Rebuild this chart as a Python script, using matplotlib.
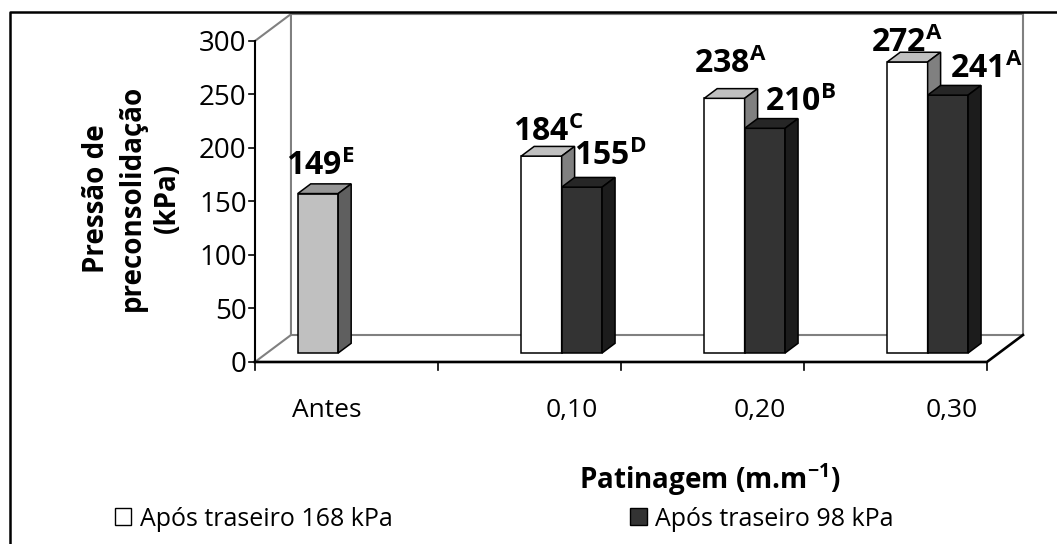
import matplotlib.pyplot as plt
from matplotlib.patches import Polygon, Patch
from matplotlib.lines import Line2D

# dados: pressão de preconsolidação (kPa) por patinagem
categorias = ["Antes", "0,10", "0,20", "0,30"]
antes = [149, None, None, None]
traseiro_168 = [None, 184, 238, 272]
traseiro_98 = [None, 155, 210, 241]
letras_antes = ["E", "", "", ""]
letras_168 = ["", "C", "A", "A"]
letras_98 = ["", "D", "B", "A"]
y_ticks = [0, 50, 100, 150, 200, 250, 300]

plt.rcParams['font.family'] = ['Open Sans', 'DejaVu Sans']
plt.rcParams['mathtext.fontset'] = 'custom'
plt.rcParams['mathtext.rm'] = 'Open Sans'
plt.rcParams['mathtext.bf'] = 'Open Sans:bold'

fig = plt.figure(figsize=(10.57, 5.44), dpi=100)
ax = fig.add_axes([0, 0, 1, 1])
ax.set_xlim(-1.893, 3.883)
ax.set_ylim(-170.1, 338.3)
ax.axis('off')

# vetor de profundidade do grafico 3D (em unidades de dados)
DX, DY = 0.197, 25.2
ymax = 300
n = len(categorias)
cinza = '#808080'

# parede do fundo e piso
ax.plot([-0.5, -0.5 + DX, -0.5 + DX], [0, DY, ymax + DY], color=cinza, lw=1.5, zorder=1)
ax.plot([-0.5 + DX, n - 0.5 + DX, n - 0.5 + DX], [DY, DY, ymax + DY], color=cinza, lw=1.5, zorder=1)
ax.plot([-0.5, -0.5 + DX, n - 0.5 + DX], [ymax, ymax + DY, ymax + DY], color=cinza, lw=1.5, zorder=1)
ax.plot([-0.5, n - 0.5, n - 0.5 + DX], [0, 0, DY], color='black', lw=1.9, zorder=5)

# eixo y
ax.plot([-0.5, -0.5], [0, ymax], color='black', lw=1.5, zorder=5)
for t in y_ticks:
    ax.plot([-0.5 - 0.03, -0.5], [t, t], color='black', lw=1.2)
    ax.text(-0.5 - 0.045, t - 3, str(t), ha='right', va='center', fontsize=20)

# eixo x: marcas entre categorias e rotulos
desloc_rotulo = [-0.11, 0.23, 0.26, 0.31]
for i in range(n + 1):
    ax.plot([i - 0.5, i - 0.5], [0, -7.5], color='black', lw=1.2)
for i, cat in enumerate(categorias):
    ax.text(i + desloc_rotulo[i], -45, cat, ha='center', va='center', fontsize=19)

# colunas 3D
w = 0.221
d0 = 0.333   # colunas afastadas da frente do piso
db = 0.36    # espessura da coluna
series = [
    (antes, letras_antes, ('#C0C0C0', '#969696', '#5F5F5F'), [-4, 0, 0, 0], [9, 0, 0, 0]),
    (traseiro_168, letras_168, ('#FFFFFF', '#C0C0C0', '#808080'), [0, 0, -1, -7], [0, 5, 16, 0]),
    (traseiro_98, letras_98, ('#333333', '#262626', '#1C1C1C'), [0, 22, 29, 32], [0, 12, 8, 7]),
]

for i in range(n):
    for k, (vals, letras, cores, ddx, ddy) in enumerate(series):
        v = vals[i]
        if v is None:
            continue
        x0 = i - 1.5 * w + k * w + d0 * DX
        b = d0 * DY
        frente, topo, lado = cores
        ax.add_patch(Polygon([(x0, b), (x0 + w, b), (x0 + w, b + v), (x0, b + v)],
                             closed=True, fc=frente, ec='black', lw=1.1, zorder=3))
        ax.add_patch(Polygon([(x0, b + v), (x0 + w, b + v),
                              (x0 + w + db * DX, b + v + db * DY), (x0 + db * DX, b + v + db * DY)],
                             closed=True, fc=topo, ec='black', lw=1.1, zorder=3))
        ax.add_patch(Polygon([(x0 + w, b), (x0 + w + db * DX, b + db * DY),
                              (x0 + w + db * DX, b + v + db * DY), (x0 + w, b + v)],
                             closed=True, fc=lado, ec='black', lw=1.1, zorder=3))
        ax.annotate(r"$\mathbf{%d^{%s}}$" % (v, letras[i]),
                    xy=(x0 + w / 2 + db * DX / 2, b + v + db * DY),
                    xytext=(ddx[i], ddy[i]), textcoords='offset pixels',
                    ha='center', va='baseline', fontsize=23, zorder=6)

# titulos dos eixos
ax.text(-1.172, 153, "Pressão de\npreconsolidação\n(kPa)", rotation=90,
        ha='center', va='center', fontsize=20, fontweight='bold', linespacing=1.3)
ax.text(1.986, -110, r"Patinagem (m.m$^{\mathbf{-1}}$)", ha='center', va='center',
        fontsize=20, fontweight='bold')

# moldura da area do grafico
fig.add_artist(Line2D([10 / 1057, 10 / 1057, 1], [0, 1 - 12 / 544, 1 - 12 / 544],
                      transform=fig.transFigure, color='black', lw=1.8))

# legenda
handles = [Patch(facecolor='white', edgecolor='black', linewidth=1.0),
           Patch(facecolor='#333333', edgecolor='black', linewidth=1.0)]
fig.legend(handles, ["Após traseiro 168 kPa", "Após traseiro 98 kPa"],
           loc='center left', bbox_to_anchor=(115 / 1057, 1 - 519 / 544), ncol=2,
           frameon=False, fontsize=18, handlelength=0.65, handleheight=0.65,
           handletextpad=0.35, columnspacing=9.5, borderpad=0, borderaxespad=0)

fig.savefig("out.png", dpi=100)
